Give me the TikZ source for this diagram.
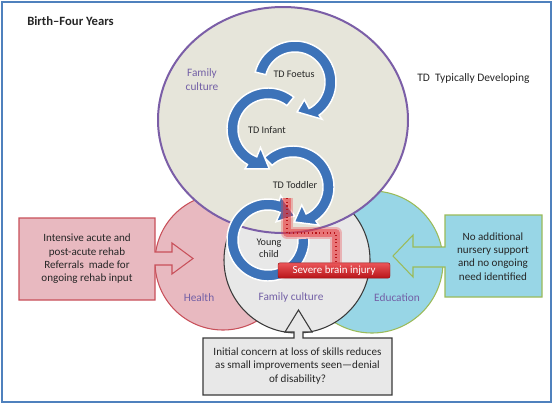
\documentclass[tikz,border=0pt]{standalone}
\usepackage{fontspec}
\setmainfont{Carlito}
\usetikzlibrary{calc}
\definecolor{framecol}{HTML}{4F81BD}
\definecolor{ellfill}{HTML}{E6E5DA}
\definecolor{ellline}{HTML}{7B5EA7}
\definecolor{healthfill}{HTML}{E8B9C0}
\definecolor{healthline}{HTML}{C8505A}
\definecolor{edufill}{HTML}{98D6E6}
\definecolor{eduline}{HTML}{9BBB59}
\definecolor{famfill}{HTML}{E8E8E8}
\definecolor{famline}{HTML}{3A3A3A}
\definecolor{labelcol}{HTML}{7360A6}
\definecolor{arrowblue}{HTML}{3D73B9}
\definecolor{txt}{HTML}{262626}
\definecolor{glow}{HTML}{E8383C}
\definecolor{dotred}{HTML}{B81418}
\tikzset{
  bodytext/.style={font=\fontsize{8.3}{10}\selectfont, text=txt, align=center, inner sep=0pt},
  labeltext/.style={font=\fontsize{8.5}{10}\selectfont, text=labelcol, align=center, inner sep=0pt},
  tdtext/.style={font=\fontsize{7.6}{9}\selectfont, text=txt, align=center, inner sep=0pt},
  arrowring/.style={fill=arrowblue, draw=white, line width=1.1pt, line join=miter},
  callout/.style={line width=0.8pt, line join=miter},
}
% #1 cx, #2 cy, #3 start angle, #4 head base angle, #5 direction (+1 / -1), #6 tip radius
\newcommand\ringarrow[6]{%
  \filldraw[arrowring]
    plot[domain=#3:#4-4*#5, samples=60] ({#1+41*cos(\x)},{#2+41*sin(\x)})
    -- ({#1+46*cos(#4-4*#5)},{#2+46*sin(#4-4*#5)})
    -- ({#1+#6*cos(#4+28*#5)},{#2+#6*sin(#4+28*#5)})
    -- ({#1+20*cos(#4+4*#5)},{#2+20*sin(#4+4*#5)})
    -- ({#1+30*cos(#4+4*#5)},{#2+30*sin(#4+4*#5)})
    -- plot[domain=#4+4*#5:#3, samples=60] ({#1+30*cos(\x)},{#2+30*sin(\x)})
    -- cycle;}
\begin{document}
\begin{tikzpicture}[x=0.75pt,y=-0.75pt]
\useasboundingbox (0,0) rectangle (553,404);
\fill[white] (0,0) rectangle (553,404);
\draw[framecol, line width=1.5pt] (2,2) rectangle (550.5,401.5);

% title and key
\node[font=\fontsize{9.5}{11}\selectfont\bfseries, text=txt, anchor=west, inner sep=0pt] (title) at (27,21) {Birth–Four Years};
\node[font=\fontsize{8.6}{10}\selectfont, text=txt, anchor=west, inner sep=0pt] (key) at (417,79) {TD\ \ Typically Developing};

% lower circles
\filldraw[fill=healthfill, draw=healthline, line width=0.8pt] (223,262) circle[radius=68];
\filldraw[fill=edufill, draw=eduline, line width=0.8pt] (372,262) circle[radius=71];
\filldraw[fill=famfill, draw=famline, line width=0.8pt] (297,260) circle[radius=73];

% big family culture ellipse
\filldraw[fill=ellfill, draw=ellline, line width=1.5pt] (283,120) circle[x radius=125, y radius=113];

% callouts
\filldraw[callout, fill=healthfill, draw=healthline]
  (19,218) -- (155,218) -- (155,252) -- (172,252) -- (172,243) -- (193,258.5)
  -- (172,274) -- (172,265) -- (155,265) -- (155,300) -- (19,300) -- cycle;
\filldraw[callout, fill=edufill, draw=eduline]
  (542,215) -- (445,215) -- (445,247) -- (413,247) -- (413,235) -- (393,256)
  -- (413,277) -- (413,267) -- (445,267) -- (445,297) -- (542,297) -- cycle;
\filldraw[callout, fill=famfill, draw=famline]
  (203,338) -- (294,338) -- (294,332) -- (285,332) -- (298.5,310) -- (312,332)
  -- (303,332) -- (303,338) -- (392,338) -- (392,395) -- (203,395) -- cycle;

% developmental circular arrows
\ringarrow{268}{240}{-3}{290}{1}{36}
\ringarrow{293}{187}{226}{420}{1}{35}
\ringarrow{268}{129}{309}{116}{-1}{40}
\ringarrow{295}{82}{194}{418}{1}{30}

% brain injury glow
\coordinate (g0) at (287,198);
\coordinate (g1) at (287,233);
\coordinate (g2) at (336,233);
\node[rounded corners=1.5pt, minimum width=84pt, minimum height=11.5pt, inner sep=0pt,
      top color=glow!85!white, bottom color=dotred, draw=dotred!80!black, line width=0.3pt,
      font=\fontsize{8.2}{10}\selectfont, text=white] (bi) at (334,270.5) {Severe brain injury};
\draw[glow, opacity=0.3, line width=9pt, line join=round] (g0) -- (g1) -- (g2) -- (g2 |- bi.north);
\draw[glow, opacity=0.5, line width=5.5pt, line join=round] (g0) -- (g1) -- (g2) -- (g2 |- bi.north);
\draw[dotred, line width=0.8pt, dotted] (g0) -- (g1) -- (g2) -- (g2 |- bi.north);

% texts
\node[labeltext] (fc1) at (202,79.5) {Family\\culture};
\node[tdtext] (foetus) at (294,74) {TD Foetus};
\node[tdtext] (infant) at (267,130) {TD Infant};
\node[tdtext] (toddler) at (295,185) {TD Toddler};
\node[tdtext] (young) at (269,248) {Young\\child};
\node[labeltext] (health) at (199,298) {Health};
\node[labeltext] (fc2) at (291,297.5) {Family culture};
\node[labeltext] (edu) at (397,298) {Education};
\node[bodytext] (htext) at (87,259) {Intensive acute and\\post-acute rehab\\Referrals\ \ made for\\ongoing rehab input};
\node[bodytext] (etext) at (493,256.5) {No additional\\nursery support\\and no ongoing\\need identified};
\node[bodytext] (ftext) at (297.5,366) {Initial concern at loss of skills reduces\\as small improvements seen—denial\\of disability?};
\end{tikzpicture}
\end{document}
